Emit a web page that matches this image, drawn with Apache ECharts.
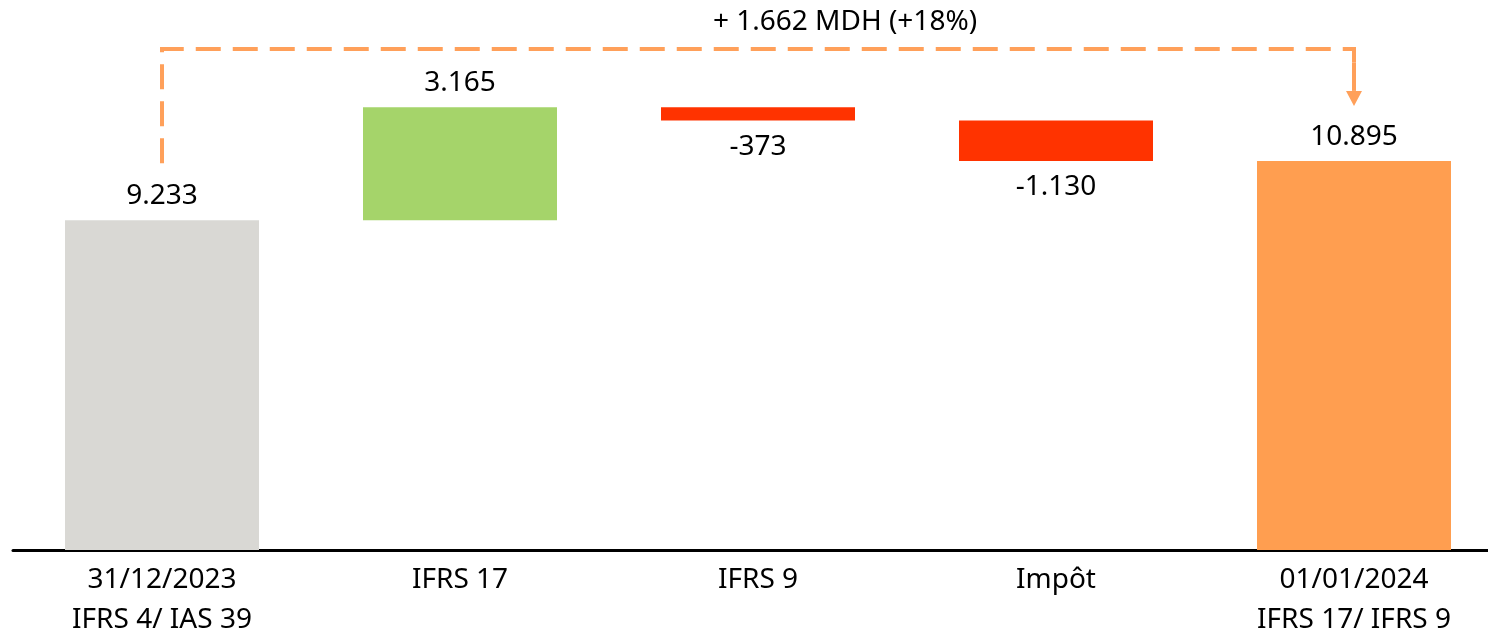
<!DOCTYPE html>
<html><head><meta charset="utf-8">
<script src="https://cdn.jsdelivr.net/npm/echarts@6/dist/echarts.min.js"></script>
<style>html,body{margin:0;padding:0;background:#fff}#c{width:1488px;height:630px}</style>
</head><body><div id="c"></div>
<script>
const categories = ['31/12/2023\nIFRS 4/ IAS 39', 'IFRS 17', 'IFRS 9', 'Impôt', '01/01/2024\nIFRS 17/ IFRS 9'];
const startValue = 9233;
const deltas = [3165, -373, -1130];
const endValue = 10895;
const summaryText = '+ 1.662 MDH (+18%)';
const colors = ['#D9D8D4', '#A5D46A', '#FF3300', '#FF3300', '#FF9E50'];

const FONT = '"Noto Sans", sans-serif';
function fmt(v){const s=Math.abs(v).toString().replace(/\B(?=(\d{3})+(?!\d))/g,'.');return (v<0?'-':'')+s;}

const base=[0], vis=[startValue], signed=[startValue];
let run=startValue;
deltas.forEach(d=>{ if(d>=0){base.push(run);vis.push(d);} else {base.push(run+d);vis.push(-d);} signed.push(d); run+=d; });
base.push(0); vis.push(endValue); signed.push(endValue);

const chart = echarts.init(document.getElementById('c'));
chart.setOption({
  animation:false,
  grid:{left:13,width:1490,top:50,height:500,containLabel:false,outerBoundsMode:'none'},
  xAxis:{type:'category',data:categories,
    axisLine:{lineStyle:{color:'#000',width:3}},axisTick:{show:false},
    axisLabel:{color:'#000',fontFamily:FONT,fontSize:28,lineHeight:40,margin:10,interval:0}},
  yAxis:{type:'value',min:0,max:14000,show:false,splitLine:{show:false}},
  series:[
    {type:'bar',stack:'w',data:base,itemStyle:{color:'transparent'},barWidth:194,silent:true},
    {type:'bar',stack:'w',barWidth:194,
      data:vis.map((v,i)=>({value:v,itemStyle:{color:colors[i]},
        label:{show:true,position:signed[i]<0?'bottom':'top',distance:signed[i]<0?12:10,
          formatter:fmt(signed[i]),color:'#000',fontFamily:FONT,fontSize:28}}))}
  ]
});

// bracket annotation
const p0 = chart.convertToPixel({xAxisIndex:0,yAxisIndex:0},[0,startValue]);
const p4 = chart.convertToPixel({xAxisIndex:0,yAxisIndex:0},[4,endValue]);
const yTop = 49;
const col='#FFA05A';
chart.setOption({graphic:[
  {type:'polyline',shape:{points:[[p0[0],p0[1]-57],[p0[0],yTop],[p4[0],yTop],[p4[0],yTop+14]]},
    style:{stroke:col,lineWidth:4,fill:null,lineDash:[25,12]}},
  {type:'line',shape:{x1:p4[0],y1:yTop+14,x2:p4[0],y2:p4[1]-70},style:{stroke:col,lineWidth:4}},
  {type:'polygon',shape:{points:[[p4[0]-8,p4[1]-70],[p4[0]+8,p4[1]-70],[p4[0],p4[1]-55]]},style:{fill:col}},
  {type:'text',x:845,y:22,style:{text:summaryText,fontFamily:FONT,fontSize:28,fill:'#000',align:'center',verticalAlign:'middle'}}
]});
</script></body></html>
